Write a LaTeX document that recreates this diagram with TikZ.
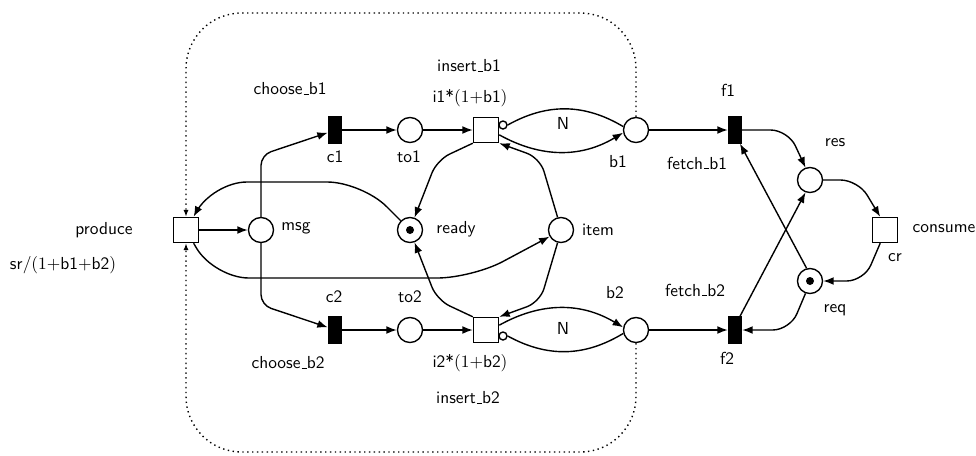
\documentclass[tikz,border=0pt]{standalone}
\usetikzlibrary{arrows.meta}

\newcommand\ulbar{\leavevmode\kern.06em\vbox{\hrule width.3em}}

\tikzset{
  place/.style={circle, draw, line width=0.8pt, minimum size=14.4pt, inner sep=0pt},
  marked/.style={place, path picture={\fill (path picture bounding box.center) circle (2.3pt);}},
  trans/.style={rectangle, draw, line width=0.8pt, minimum size=14.4pt, inner sep=0pt},
  imm/.style={rectangle, draw, fill, line width=0.8pt, minimum width=7.5pt, minimum height=15pt, inner sep=0pt},
  inhib/.style={circle, draw, fill=white, line width=0.8pt, minimum size=4.6pt, inner sep=0pt},
  arc/.style={-{Latex[length=6pt,width=4.5pt]}, line width=0.8pt},
  dep/.style={dotted, line width=0.8pt, -{Latex[length=4pt,width=3pt]}, rounded corners=32pt},
  every node/.append style={font=\sffamily},
}

\begin{document}
\begin{tikzpicture}[x=0.575pt, y=-0.575pt]
  \useasboundingbox (0,0) rectangle (976,455);

  % places and transitions
  \node[trans] (produce) at (186,230) {};
  \node[place] (msg) at (261,230) {};
  \node[imm] (c1) at (335,130) {};
  \node[imm] (c2) at (335,330) {};
  \node[place] (to1) at (410,130) {};
  \node[place] (to2) at (410,330) {};
  \node[trans] (ins1) at (486,130) {};
  \node[trans] (ins2) at (486,330) {};
  \node[marked] (ready) at (410,230) {};
  \node[place] (item) at (561,230) {};
  \node[place] (b1) at (636,130) {};
  \node[place] (b2) at (636,330) {};
  \node[imm] (f1) at (735,130) {};
  \node[imm] (f2) at (735,330) {};
  \node[place] (res) at (810,180) {};
  \node[marked] (req) at (810,281) {};
  \node[trans] (consume) at (885,230) {};

  % arcs
  \draw[arc] (produce) -- (msg); % produce -> msg
  \draw[arc, rounded corners=6pt] (msg.north) -- (261,155) -- (c1.200); % msg -> c1
  \draw[arc, rounded corners=6pt] (msg.south) -- (261,305) -- (c2.160); % msg -> c2
  \draw[arc] (c1) -- (to1); % c1 -> to1
  \draw[arc] (c2) -- (to2); % c2 -> to2
  \draw[arc] (to1) -- (ins1); % to1 -> insert_b1
  \draw[arc] (to2) -- (ins2); % to2 -> insert_b2
  \draw[arc, rounded corners=8pt] (ins1.south west) -- (437,160) -- (ready.70); % insert_b1 -> ready
  \draw[arc, rounded corners=8pt] (ins2.north west) -- (437,300) -- (ready.-70); % insert_b2 -> ready
  \draw[arc, rounded corners=8pt] (item.105) -- (540,158) -- (ins1.south east); % item -> insert_b1
  \draw[arc, rounded corners=8pt] (item.-105) -- (540,302) -- (ins2.north east); % item -> insert_b2
  \draw[arc, rounded corners=20pt] (ready.135) -- (362,182) -- (212,182) -- (produce.60); % ready -> produce
  \draw[arc, rounded corners=20pt] (produce.-60) -- (214,278) -- (472,278) -- (item.210); % produce -> item

  % buffers
  \node[inhib] (inh1) at (503,125) {};
  \node[inhib] (inh2) at (503,336) {};
  \draw[arc] (ins1.-20) to[bend right=30] (b1.192); % insert_b1 -> b1
  \draw[line width=0.8pt] (inh1.east) to[bend left=30] (b1.165); % b1 -o insert_b1
  \draw[arc] (ins2.20) to[bend left=30] (b2.168); % insert_b2 -> b2
  \draw[line width=0.8pt] (inh2.east) to[bend right=30] (b2.195); % b2 -o insert_b2

  % rate dependency
  \draw[dep] (b1.north) -- (636,13) -- (186,13) -- (produce.north); % b1 .. produce
  \draw[dep] (b2.south) -- (636,452) -- (186,452) -- (produce.south); % b2 .. produce

  % consumer side
  \draw[arc] (b1) -- (f1); % b1 -> f1
  \draw[arc] (b2) -- (f2); % b2 -> f2
  \draw[arc, rounded corners=10pt] (f1.east) -- (788,130) -- (res.110); % f1 -> res
  \draw[arc] (f2.70) -- (res.-110); % f2 -> res
  \draw[arc] (req.105) -- (f1.-70); % req -> f1
  \draw[arc, rounded corners=10pt] (req.-110) -- (790,330) -- (f2.east); % req -> f2
  \draw[arc, rounded corners=10pt] (res.east) -- (858,180) -- (consume.110); % res -> consume
  \draw[arc, rounded corners=10pt] (consume.-110) -- (864,281) -- (req.east); % consume -> req

  % labels
  \node (produce-l) at (104,230) {produce};
  \node (rate-l) at (63,265) {$\mathsf{sr}/(1{+}\mathsf{b1}{+}\mathsf{b2})$};
  \node (msg-l) at (296,228) {msg};
  \node (ready-l) at (456,229) {ready};
  \node (item-l) at (598,230) {item};
  \node (choose1-l) at (290,89) {choose\ulbar b1};
  \node (choose2-l) at (288,363) {choose\ulbar b2};
  \node (c1-l) at (335,157) {c1};
  \node (c2-l) at (334,297) {c2};
  \node (to1-l) at (409,157) {to1};
  \node (to2-l) at (410,297) {to2};
  \node (ins1-l) at (469,66) {insert\ulbar b1};
  \node (ins1-w) at (470,98) {i1*$(1{+}\mathsf{b1})$};
  \node (ins2-w) at (470,363) {i2*$(1{+}\mathsf{b2})$};
  \node (ins2-l) at (468,398) {insert\ulbar b2};
  \node (n1-l) at (563,123) {N};
  \node (n2-l) at (563,328) {N};
  \node (b1-l) at (618,162) {b1};
  \node (b2-l) at (615,293) {b2};
  \node (f1-l) at (728,90) {f1};
  \node (f2-l) at (727,358) {f2};
  \node (fetch1-l) at (697,163) {fetch\ulbar b1};
  \node (fetch2-l) at (695,290) {fetch\ulbar b2};
  \node (res-l) at (835,143) {res};
  \node (req-l) at (835,310) {req};
  \node (consume-l) at (944,229) {consume};
  \node (cr-l) at (895,258) {cr};
\end{tikzpicture}
\end{document}
